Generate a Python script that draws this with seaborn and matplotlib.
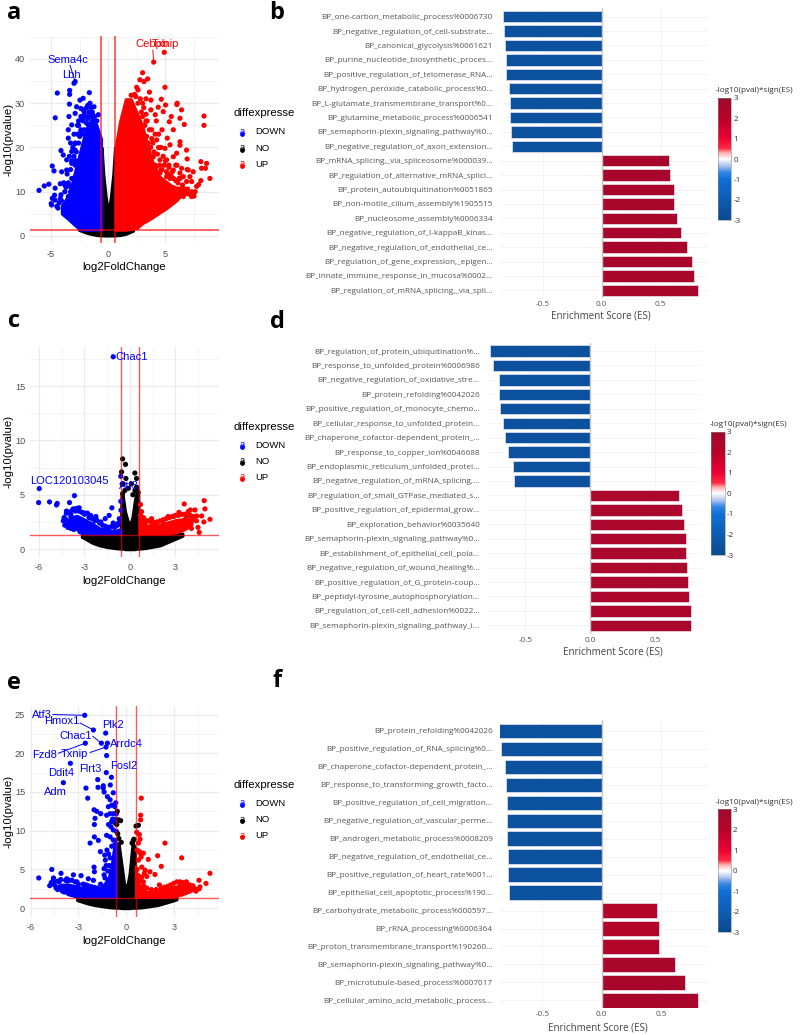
import numpy as np
import pandas as pd
import seaborn as sns
import matplotlib
matplotlib.use("Agg")
import matplotlib.pyplot as plt
from matplotlib.colors import LinearSegmentedColormap, Normalize
from matplotlib.cm import ScalarMappable

W, H = 804, 1035
sns.set_theme(style="white")
plt.rcParams["font.family"] = ["Liberation Sans", "DejaVu Sans"]
plt.rcParams["axes.unicode_minus"] = False

# ---------- volcano a: individually readable points ----------
a_down_x = [-6.06,-5.6,-5.2,-4.9,-4.75,-4.65,-4.46,-4.64,-3.38,-3.38,-3.4,-2.9,-3.0,-1.66,-4.14,-3.94,-4.9,-4.96,-4.66,-4.4,-3.64,-3.2,-4.08,-3.64,-3.8,-3.35,-4.14,-3.5,-3.5,-3.2,-3.44,-2.9,-2.48,-2.2,-2.77,-1.6,-1.25,-0.87,-2.9,-2.9,-3.2,-3.2,-2.6,-3.5,-3.35,-2.77,-2.48,-2.19,-1.84,-2.6,-2.4,-1.9,-1.4,-3.0,-2.7,-3.3,-3.7,-4.3,-4.5,-5.0,-4.7,-4.2,-2.3,-1.7,-2.1,-2.85,
            -1.0,-1.2,-1.4,-1.6,-1.8,-2.0,-2.2,-2.4,-2.6,-1.1,-1.3,-1.5,-1.7,-1.9,-2.1,-2.3,-2.5,-2.7,-2.9,-3.1,-1.5,-1.8,-2.1,-2.4,-2.6,-2.8,-3.0,-3.2,-3.3,-3.4,-3.6,-3.1,-3.3,-2.9,-3.5,-3.8,-3.9,-4.1,-3.6,-3.4,-4.2,-3.7]
a_down_y = [10.3,11.3,11.7,15.8,14.7,10.8,32.3,26.7,32.9,32,29.8,34.9,34.5,32.4,19.3,18.3,8.5,7,8.1,6.3,17.2,16.4,14.5,14.9,11.5,11.2,9.3,22.1,24,25.1,27,27.7,30.7,31.1,29.2,30,29.2,27.4,19.4,20.9,19.1,13,12.7,8.9,6.3,10.4,23.2,28.5,27,26,28.8,29,28,23,25,21,11,7.5,6.7,7.3,9.2,11.8,26.7,28,27.2,17,
            26,27,27.5,28,26.5,27,26,27,25,25,26,27,25,25.5,24,23,22.5,23,21,20,29,29.5,28,24,21,19,18,17,15,18,14,13,10,16,12,10,12,8,8,7,8.5,6.5]
a_up_x = [3.97,4.9,3,2.77,3.12,3.44,4.96,2.48,8.37,8.37,6.65,6.41,6.03,6.0,4.64,5.01,4.81,4.37,3.73,3.73,4.11,5.51,5.34,5.69,5.16,6.27,8.89,8.1,8.6,8.16,8.5,8.1,7.43,7,6.9,6.85,6.27,6.27,5.4,4.96,4.23,3.35,3.79,3.06,4.52,5.69,5.1,5.98,6.41,7.73,7.29,6.85,7.14,6.56,5.69,4.23,4.6,3.94,3.5,3.06,6.27,6.56,5.69,5.1,4.52,6.27,6.85,7.29,2.3,2.6,2.0,3.3,3.6,4.1,4.4,4.7,5.3,3.9,3.3,2.9,5.0,5.9,7.6,7.9,6.9,
          3.0,3.2,3.4,3.6,3.8,4.0,3.1,3.3,3.5,3.7,3.9,4.1,4.3,4.5,4.7,4.9,5.1,5.3,5.5,5.7,5.9,6.1,6.3,6.5,6.7,7,7.3,7.5,4.2,4.4,4.6,4.8,5.0,5.2,5.4,5.6,6.0,6.2,2.8,3.0,2.6,2.4]
a_up_y = [39.3,41.5,36.9,35.3,34.9,35.5,33.6,33.6,27.1,25,25.2,28.5,30,29.7,30.9,29.6,28.1,29.1,30.7,28.5,27.4,27,25.8,24,22.1,26.6,13,16.8,16.4,15.3,15.3,12.5,14.5,14.9,17.4,19.4,21.3,20.5,20.6,19.8,21.7,22.5,24,25.1,17.2,17.9,17.2,18.7,15.3,11.2,8.9,10.4,13.4,13.4,14.9,15.7,14.9,17.9,19.4,17.9,10.4,8.9,10.4,13.4,14.2,14.2,12.3,12.3,32,33,31.8,31,32.5,23,20,24,16,21,26,28,10,16,10,11.6,15,
          27,25,26,24,22,19,29,27.5,21,20,18,16,18.5,16,15,16,14.5,15.5,13.5,13,12.5,12,13,11.5,9.5,9.5,10,9,26,23,20,18,17,14,13,14.5,16,13,31,30,30,31.5]

# ---------- volcano a: outlines of the solid clouds ----------
a_no_x = [-2.6,-2,-1.5,-1,-0.62,-0.55,-0.4,-0.2,-0.05,0.05,0.2,0.4,0.55,0.62,1,1.5,2.2]
a_no_lo = [1.3,0.7,0.35,0.1,0.04,0.03,0,0,0,0,0,0,0.03,0.04,0.1,0.35,1.1]
a_no_hi = [1.6,1.6,1.6,1.6,1.6,20,14,9,6.5,6.5,9,14,20,1.6,1.6,1.6,1.6]
a_dn_x = [-4.1,-3.5,-3,-2.5,-2,-1.5,-1,-0.6]
a_dn_lo = [5,3.7,2.5,1.4,1.3,1.3,1.3,1.3]
a_dn_hi = [7,9,14,19,24,26.5,25,22]
a_upf_x = [0.6,0.8,1,1.5,2,2.5,3,3.5,4,4.5,5,5.5,6,6.5,7]
a_upf_lo = [1.3,1.3,1.3,1.3,1.5,1.7,2.8,3.5,4.3,5.2,6,7,8,9.5,10.5]
a_upf_hi = [20,23,26,31,31,28,25,20,16,13.5,12.5,11.5,11,11,11]

# ---------- volcano c ----------
c_down_x = [-5.99,-6.03,-5.31,-4.85,-4.8,-3.99,-3.66,-4.19,-3.74,-3.52,-3.35,-3.08,-1.19,-0.59,-0.6,-1.37,-1.1,-0.7,-1.63,-2.25,-1.92,-1.1,-0.6,-0.51,-4.3,-4.1,-3.9,-2.8,-2.6,-0.9,-0.75,
            -4.4,-4.3,-4.2,-4.1,-4,-3.9,-3.8,-3.7,-3.6,-3.4,-3.3,-3.2,-3,-2.9,-2.7,-2.5,-2.3,-2.2,-2,-1.8,-1.6,-1.4,-1.2,-1,-0.8,-4.35,-4.2,-3.9]
c_down_y = [5.57,4.28,4.34,4.06,4.2,4.28,4.92,3.5,3.7,3.75,3.8,3.35,3.8,3.57,4.4,3.1,2.4,2.8,2.8,3,2.5,17.7,6.7,6,2.8,2.5,3,3.3,3.1,2.2,2.4,
            2.6,2.2,3.3,2.0,3.4,1.9,3.6,1.8,3.5,3.5,1.6,3.4,3.2,3.3,2.9,2.8,2.6,2.7,2.4,2.2,2.1,2,2.1,2,2.2,2.9,2.7,3.2]
c_no_x = [-0.48,-0.29,-0.55,0.33,0.44,-0.26,0.1,-0.44,-0.33,0.44,0.55,0.33,-0.48,-0.1,0.2]
c_no_y = [8.3,7.8,7.1,7,6.5,6.5,6,6,5.4,5.7,5.2,5.4,5.1,5.6,5]
c_up_x = [4.91,4.96,5.29,3.59,4.58,3.24,4.41,4.74,4.89,0.7,0.77,2.53,3.1,4,4.3,3.85,3.7,4.19,4.5,4.07,1.43,1.55,0.9,1.1,2.9,2.2,
          0.7,0.8,0.9,1,1.2,1.4,1.6,1.8,2,2.2,2.4,2.6,2.8,3,3.2,3.4,3.6,3.8,4,4.2,4.4,3.3,3.5]
c_up_y = [4.46,3.7,2.74,4.15,1.54,3.38,3.05,3.05,2.5,4.1,3.45,3,2.5,3.6,3.6,3.45,2.8,2.67,2,1.9,2.8,2.5,2.9,2.6,3,2.7,
          3.1,2.8,2.5,2.4,2.6,2.5,2.4,2.5,2.6,2.6,2.8,2.9,3,3.1,3.1,3.2,3.2,3.1,3.1,3.0,2.6,1.7,1.9]
c_no_fx = [-3.2,-2.5,-2,-1.5,-1,-0.62,-0.58,-0.45,-0.3,-0.1,0.05,0.15,0.3,0.5,0.58,0.62,1,2,3,3.5]
c_no_lo = [1.1,0.55,0.3,0.15,0.05,0,0,0,-0.05,-0.05,-0.05,-0.05,-0.05,0,0,0,0.05,0.3,0.9,1.2]
c_no_hi = [1.45,1.45,1.45,1.45,1.45,1.45,5.2,5,3.5,2.5,2.5,3,4.5,5.8,5,1.45,1.45,1.45,1.45,1.45]
c_dn_fx = [-4.1,-3.8,-3.5,-3.2,-2.5,-2,-1,-0.6]
c_dn_lo = [2.3,2,1.8,1.45,1.4,1.4,1.4,1.4]
c_dn_hi = [2.7,3,3.1,2.9,2.4,1.95,1.7,1.9]
c_up_fx = [0.6,1,2,2.5,3,3.5,4,4.1]
c_up_lo = [1.4,1.4,1.4,1.4,1.5,1.7,2.1,2.3]
c_up_hi = [3,2.2,2.3,2.5,2.7,2.8,2.8,2.7]

# ---------- volcano e ----------
e_down_x = [-2.6,-2.05,-1.28,-1.55,-1.17,-1.26,-2.56,-1.22,-3.5,-1.24,-3.94,-0.92,-1.78,-0.99,-2.52,-1.76,-1.43,-1.43,-0.8,-2.41,-1.38,-1.17,-1,-0.65,-2.01,-1.84,-1.59,-1.95,-1.99,-2.26,-1.74,-1.99,-1.61,-1.34,-2.01,-1.99,-1.38,-4.67,-5.49,-4.09,-3.31,-2.83,-2.37,-2.05,-1.38,-1.32,-4.56,-4.52,-4.29,-3.73,-3.56,-3.09,-1.11,-0.9,-0.7,-1.22,-1,-0.8,-0.6,-0.9,-0.7,-1.1,-0.8,-0.6,-1.22,-1,-0.8,-0.7,
            -4.8,-4.6,-4.4,-4.2,-4,-3.8,-3.6,-3.4,-3.2,-3,-2.8,-2.6,-2.4,-2.2,-2,-4.7,-4.5,-4.3,-4.1,-3.9,-3.7,-2.7,-2.5,-1.8,-1.6,
            -1.1,-1.0,-0.9,-1.05,-0.95,-0.85,-0.75,-0.65,-1.15,-1.25,-1.3,-1.2]
e_down_y = [24.9,23,22.6,21.3,21.3,20.8,21.3,19.7,18.7,17.5,16.2,16.9,16.6,15.9,15.5,15.6,15.8,15.5,14.9,14.2,15,14.4,14,13.6,12.7,12.5,12.2,11.6,10.8,8.4,8.75,9.2,7.3,6.85,5.3,4.7,5.1,5,3.9,4.5,4.3,4.2,3.8,3.6,4.3,3.9,3.9,3.4,3.5,3.8,3.6,3.4,13.1,13.3,13.1,12,12.2,12.2,12.2,11.2,11,10.8,10.1,9.9,9.4,9.2,8.8,8.2,
            2.9,3.5,2.6,3.4,2.2,3.6,1.9,3.6,3.4,3.1,1.6,3,2.9,2.8,2.7,3.3,3.0,2.4,3.7,2.1,3.5,3.1,3,2.6,3.1,
            7,6.5,8,5.5,10.5,11.5,6.5,11.5,4.8,5.5,6.2,7.5]
e_no_x = [-0.55,-0.34,-0.47,-0.58,-0.52,0.63,0.78,0.46,-0.45,-0.3,0.5,0.38]
e_no_y = [12.5,11.3,11.4,10.8,9.6,10.6,10.7,8.75,9,8.5,8.9,8.4]
e_up_x = [0.96,0.92,0.92,0.84,0.88,0.67,0.78,2.45,1.99,3.5,2.22,1.4,1.09,0.88,0.78,5.28,4.59,5.03,1.2,1.5,1.82,1.31,0.99,1.09,0.99,0.78,3.8,3.4,4.34,4.65,0.7,0.85,0.95,1.15,2.1,
          0.7,0.9,1.1,1.3,1.6,1.9,2.2,2.4,2.6,2.8,3,3.2,3.4,3.6,3.8,4,4.2,4.4,4.6]
e_up_y = [14.2,12,11.4,9.5,8.9,9.8,8.4,8.4,6.77,6.5,5.4,6.3,7.1,7.1,6.2,4.5,3.6,3.2,4.9,4.7,4.35,4.1,5.3,3.4,4,4.2,3.4,3.2,2.5,2.75,7.5,7.3,6.6,4.5,3,
          5,3.5,2.9,2.6,2.4,2.4,2.5,2.7,2.8,3,3.2,3.4,3.4,3.3,3.2,3,2.9,2.2,2.5]
e_no_fx = [-3.1,-2.5,-2,-1,-0.62,-0.58,-0.45,-0.25,-0.1,0.05,0.2,0.4,0.58,0.62,1,2,3,3.2]
e_no_lo = [1.0,0.6,0.35,0.05,0,0,0,-0.05,-0.05,-0.05,-0.05,0,0,0,0.05,0.35,0.95,1.1]
e_no_hi = [1.45,1.45,1.45,1.45,1.45,7.5,8.5,5.5,3.2,2.8,4.5,8.7,7.8,1.45,1.45,1.45,1.45,1.45]
e_dn_fx = [-4.4,-4,-3.6,-3,-2.5,-2,-1.5,-1.1,-0.9,-0.7,-0.6]
e_dn_lo = [2.6,2.2,1.7,1.4,1.4,1.4,1.4,1.4,1.4,1.4,1.4]
e_dn_hi = [2.9,3.1,3.1,2.8,2.6,2.4,2.8,4,6,9,8.5]
e_up_fx = [0.6,0.8,1.2,2,2.5,3,3.5,4,4.3]
e_up_lo = [1.4,1.4,1.4,1.4,1.4,1.5,1.7,2.1,2.4]
e_up_hi = [5.5,3.2,2.2,2.2,2.5,2.8,3,2.8,2.6]

# ---------- gene labels ----------
a_genes = ["Sema4c","Lbh","Cebpb","Txnip"]
a_gene_x = [-3.5,-3.26,3.82,4.96]
a_gene_y = [39.8,36.4,43.4,43.4]
c_genes = ["Chac1","LOC120103045","Atf3"]
c_gene_x = [0.13,-3.99,-0.07]
c_gene_y = [17.7,6.3,5.85]
e_genes = ["Atf3","Hmox1","Plk2","Chac1","Arrdc4","Fzd8","Txnip","Fosl2","Flrt3","Ddit4","Adm"]
e_gene_x = [-5.3,-4.05,-0.8,-3.19,0.04,-5.12,-3.23,-0.17,-2.22,-4.07,-4.47]
e_gene_y = [24.96,24.2,23.7,22.2,21.2,19.8,19.9,18.4,18,17.5,15]

# ---------- enrichment bars ----------
b_terms = ["BP_one-carbon_metabolic_process%0006730","BP_negative_regulation_of_cell-substrate...","BP_canonical_glycolysis%0061621","BP_purine_nucleotide_biosynthetic_proces...","BP_positive_regulation_of_telomerase_RNA...","BP_hydrogen_peroxide_catabolic_process%0...","BP_L-glutamate_transmembrane_transport%0...","BP_glutamine_metabolic_process%0006541","BP_semaphorin-plexin_signaling_pathway%0...","BP_negative_regulation_of_axon_extension...","BP_mRNA_splicing,_via_spliceosome%000039...","BP_regulation_of_alternative_mRNA_splici...","BP_protein_autoubiquitination%0051865","BP_non-motile_cilium_assembly%1905515","BP_nucleosome_assembly%0006334","BP_negative_regulation_of_I-kappaB_kinas...","BP_negative_regulation_of_endothelial_ce...","BP_regulation_of_gene_expression,_epigen...","BP_innate_immune_response_in_mucosa%0002...","BP_regulation_of_mRNA_splicing,_via_spli..."]
b_es = [-0.836,-0.831,-0.819,-0.814,-0.811,-0.782,-0.780,-0.777,-0.768,-0.763,0.573,0.576,0.613,0.613,0.638,0.669,0.726,0.763,0.780,0.819]
d_terms = ["BP_regulation_of_protein_ubiquitination%...","BP_response_to_unfolded_protein%0006986","BP_negative_regulation_of_oxidative_stre...","BP_protein_refolding%0042026","BP_positive_regulation_of_monocyte_chemo...","BP_cellular_response_to_unfolded_protein...","BP_chaperone_cofactor-dependent_protein_...","BP_response_to_copper_ion%0046688","BP_endoplasmic_reticulum_unfolded_protei...","BP_negative_regulation_of_mRNA_splicing,...","BP_regulation_of_small_GTPase_mediated_s...","BP_positive_regulation_of_epidermal_grow...","BP_exploration_behavior%0035640","BP_semaphorin-plexin_signaling_pathway%0...","BP_establishment_of_epithelial_cell_pola...","BP_negative_regulation_of_wound_healing%...","BP_positive_regulation_of_G_protein-coup...","BP_peptidyl-tyrosine_autophosphorylation...","BP_regulation_of_cell-cell_adhesion%0022...","BP_semaphorin-plexin_signaling_pathway_i..."]
d_es = [-0.769,-0.751,-0.705,-0.705,-0.692,-0.672,-0.654,-0.631,-0.592,-0.590,0.685,0.705,0.718,0.733,0.738,0.746,0.754,0.759,0.772,0.777]
f_terms = ["BP_protein_refolding%0042026","BP_positive_regulation_of_RNA_splicing%0...","BP_chaperone_cofactor-dependent_protein_...","BP_response_to_transforming_growth_facto...","BP_positive_regulation_of_cell_migration...","BP_negative_regulation_of_vascular_perme...","BP_androgen_metabolic_process%0008209","BP_negative_regulation_of_endothelial_ce...","BP_positive_regulation_of_heart_rate%001...","BP_epithelial_cell_apoptotic_process%190...","BP_carbohydrate_metabolic_process%000597...","BP_rRNA_processing%0006364","BP_proton_transmembrane_transport%190260...","BP_semaphorin-plexin_signaling_pathway%0...","BP_microtubule-based_process%0007017","BP_cellular_amino_acid_metabolic_process..."]
f_es = [-0.876,-0.846,-0.815,-0.806,-0.798,-0.795,-0.795,-0.787,-0.787,-0.781,0.466,0.483,0.486,0.615,0.705,0.809]
b_sig = [-2.6]*10 + [2.6]*10
d_sig = [-2.6]*10 + [2.5]*10
f_sig = [-2.6]*10 + [2.2]*3 + [2.6]*3

BLUE, RED = "#0000ff", "#ff0000"
cmap = LinearSegmentedColormap.from_list("es", [
    (0.0, "#0a4a8e"), (1/6, "#0c5cb4"), (2/6, "#0f6fd8"), (0.39, "#2f86e6"),
    (0.45, "#b8c8f0"), (0.5, "#ffffff"), (0.55, "#ffb0b0"), (0.585, "#ff2a40"),
    (4/6, "#ee0033"), (5/6, "#b8022a"), (1.0, "#9e0a2b")])
norm = Normalize(-3, 3)

fig = plt.figure(figsize=(W / 100, H / 100), dpi=100)

def box(l, t, r, b):
    return [l / W, 1 - b / H, (r - l) / W, (b - t) / H]

def volcano(rect, xlim, ylim, xt, xm, yt, ym, no, dn, up, dots, genes, links, lw):
    ax = fig.add_axes(box(*rect))
    ax.set_xlim(xlim); ax.set_ylim(ylim)
    ax.set_xticks(xt); ax.set_xticks(xm, minor=True)
    ax.set_yticks(yt); ax.set_yticks(ym, minor=True)
    ax.grid(True, which="major", color="#ebebeb", lw=0.9)
    ax.grid(True, which="minor", color="#f0f0f0", lw=0.5)
    ax.set_axisbelow(True)
    sns.despine(ax=ax, left=True, bottom=True, right=True, top=True)
    for f, c in ((no, "black"), (dn, BLUE), (up, RED)):
        ax.fill_between(f[0], f[1], f[2], color=c, lw=1.6, zorder=2)
    frames = []
    for x, y, lab in dots:
        frames.append(pd.DataFrame({"log2FoldChange": x, "logp": y, "diffexpressed": lab}))
    df = pd.concat(frames, ignore_index=True)
    sns.scatterplot(data=df, x="log2FoldChange", y="logp", hue="diffexpressed",
                    palette={"DOWN": BLUE, "NO": "black", "UP": RED},
                    s=14, linewidth=0, legend=False, ax=ax, zorder=3)
    for v in (-0.6, 0.6):
        ax.axvline(v, color=RED, lw=lw, alpha=0.65, zorder=4)
    ax.axhline(1.3, color=RED, lw=lw, alpha=0.65, zorder=4)
    for (g, gx, gy, col) in genes:
        ax.text(gx, gy, g, color=col, fontsize=8, ha="center", va="center", zorder=5)
    for (x0, y0, x1, y1, col) in links:
        ax.plot([x0, x1], [y0, y1], color=col, lw=0.7, zorder=5)
    ax.set_xlabel("log2FoldChange", fontsize=8.2, color="black", labelpad=2.5)
    ax.set_ylabel("-log10(pvalue)", fontsize=8.2, color="black", labelpad=1)
    ax.tick_params(axis="x", which="both", length=0, labelsize=6.6, labelcolor="#4d4d4d", pad=4.8)
    ax.tick_params(axis="y", which="both", length=0, labelsize=6.6, labelcolor="#4d4d4d", pad=3.5)
    return ax

volcano((30, 36, 218.7, 243), (-6.85, 9.66), (-1.6, 45.2),
        [-5, 0, 5], [-2.5, 2.5, 7.5], [0, 10, 20, 30, 40], [5, 15, 25, 35, 45],
        (a_no_x, a_no_lo, a_no_hi), (a_dn_x, a_dn_lo, a_dn_hi), (a_upf_x, a_upf_lo, a_upf_hi),
        [(a_down_x, a_down_y, "DOWN"), (a_up_x, a_up_y, "UP")],
        [(g, x, y, BLUE if i < 2 else RED) for i, (g, x, y) in enumerate(zip(a_genes, a_gene_x, a_gene_y))],
        [(-3.35, 38.6, -2.95, 35.3, BLUE), (3.9, 42, 3.97, 39.3, RED)], 1.3)

volcano((30, 347, 218.7, 556.7), (-6.6, 5.87), (-0.7, 18.6),
        [-6, -3, 0, 3], [-4.5, -1.5, 1.5, 4.5], [0, 5, 10, 15], [2.5, 7.5, 12.5, 17.5],
        (c_no_fx, c_no_lo, c_no_hi), (c_dn_fx, c_dn_lo, c_dn_hi), (c_up_fx, c_up_lo, c_up_hi),
        [(c_down_x, c_down_y, "DOWN"), (c_no_x, c_no_y, "NO"), (c_up_x, c_up_y, "UP")],
        [(g, x, y, BLUE) for g, x, y in zip(c_genes, c_gene_x, c_gene_y)], [], 1.0)

volcano((30, 706, 218.7, 916.7), (-6.04, 5.83), (-1.1, 26.1),
        [-6, -3, 0, 3], [-4.5, -1.5, 1.5, 4.5], [0, 5, 10, 15, 20, 25], [2.5, 7.5, 12.5, 17.5, 22.5],
        (e_no_fx, e_no_lo, e_no_hi), (e_dn_fx, e_dn_lo, e_dn_hi), (e_up_fx, e_up_lo, e_up_hi),
        [(e_down_x, e_down_y, "DOWN"), (e_no_x, e_no_y, "NO"), (e_up_x, e_up_y, "UP")],
        [(g, x, y, BLUE) for g, x, y in zip(e_genes, e_gene_x, e_gene_y)],
        [(-4.61, 25, -2.6, 24.9, BLUE), (-2.89, 23.9, -2.05, 23, BLUE), (-2.1, 22.2, -1.55, 21.3, BLUE),
         (-4.26, 20, -2.56, 21.3, BLUE), (-2.26, 20.1, -1.26, 20.8, BLUE)], 1.0)

def bars(rect, xlim, ylim, terms, es, sig, cbar_rect, cbar_title_xy, xlab_xy):
    ax = fig.add_axes(box(*rect))
    df = pd.DataFrame({"term": terms, "es": es})
    pal = {t: cmap(norm(s)) for t, s in zip(terms, sig)}
    sns.barplot(data=df, x="es", y="term", hue="term", palette=pal, legend=False,
                orient="h", width=0.79, saturation=1, edgecolor="#e6e6ee", linewidth=0.5, ax=ax)
    ax.set_xlim(xlim); ax.set_ylim(ylim)
    ax.set_xticks([-0.5, 0, 0.5]); ax.set_xticklabels(["-0.5", "0.0", "0.5"])
    ax.grid(True, axis="both", color="#f3f3f3", lw=0.6)
    ax.set_axisbelow(True)
    ax.axvline(0, color="#c8c8c8", lw=1, zorder=5)
    sns.despine(ax=ax, left=True, bottom=True, right=True, top=True)
    ax.set_xlabel(""); ax.set_ylabel("")
    ax.tick_params(axis="y", length=0, labelsize=5.85, labelcolor="#555555", pad=5.3)
    ax.tick_params(axis="x", length=0, labelsize=5.95, labelcolor="#555555", pad=2.5)
    for lab in ax.get_yticklabels() + ax.get_xticklabels():
        lab.set_fontfamily(["Open Sans", "DejaVu Sans"])
    cax = fig.add_axes(box(*cbar_rect))
    cb = fig.colorbar(ScalarMappable(norm=norm, cmap=cmap), cax=cax, ticks=[-3, -2, -1, 0, 1, 2, 3])
    cb.outline.set_edgecolor("#888888"); cb.outline.set_linewidth(0.4)
    cax.tick_params(length=0, labelsize=5.9, labelcolor="#333333", pad=1.5)
    for lab in cax.get_yticklabels():
        lab.set_fontfamily(["Open Sans", "DejaVu Sans"])
    over.text(*cbar_title_xy, "-log10(pval)*sign(ES)", fontsize=5.9, color="#333333", ha="center", va="center",
              family=["Open Sans", "DejaVu Sans"])
    over.text(*xlab_xy, "Enrichment Score (ES)", fontsize=7, color="#444444", ha="center", va="center",
              family=["Open Sans", "DejaVu Sans"])

over = fig.add_axes([0, 0, 1, 1], zorder=10)
over.set_xlim(0, W); over.set_ylim(H, 0); over.axis("off"); over.patch.set_alpha(0)

bars((500, 8, 708, 298), (-0.862, 0.901), (19.53, -0.6), b_terms, b_es, b_sig,
     (718, 97.7, 731.3, 220.3), (754, 90), (601, 316))
bars((487, 342.7, 701.7, 634), (-0.795, 0.857), (19.6, -0.576), d_terms, d_es, d_sig,
     (711, 431.7, 724.7, 555), (748, 424.7), (613, 652))
bars((500, 720, 708, 1008), (-0.857, 0.895), (15.42, -0.595), f_terms, f_es, f_sig,
     (718, 809.3, 731, 932.3), (754, 802), (598, 1028))

# legends and panel letters
legend_levels = ["DOWN", "NO", "UP"]
legend_cols = [BLUE, "black", RED]
for ty, rows in ((113, (132, 148.3, 164.3)), (426.7, (445, 461, 477)), (785, (803.3, 819.7, 835.7))):
    over.text(234, ty, "diffexpresse", fontsize=8.2, color="black", va="center", ha="left")
    for lv, col, y in zip(legend_levels, legend_cols, rows):
        over.scatter([242.3], [y + 1.5], s=12, color=col, linewidths=0)
        over.text(242.3, y - 0.5, "a", color=col, fontsize=6.8, ha="center", va="center")
        over.text(255.7, y, lv, color="black", fontsize=6.8, ha="left", va="center")

panel_letters = ["a", "b", "c", "d", "e", "f"]
letter_x = [14, 277, 14, 277, 14, 277]
letter_y = [13, 13, 321, 322, 683, 681]
for s, x, y in zip(panel_letters, letter_x, letter_y):
    over.text(x, y, s, fontsize=17, fontweight="bold", color="black", ha="center", va="center",
              family=["Open Sans", "DejaVu Sans"])

fig.savefig("out.png", dpi=100, facecolor="white")
